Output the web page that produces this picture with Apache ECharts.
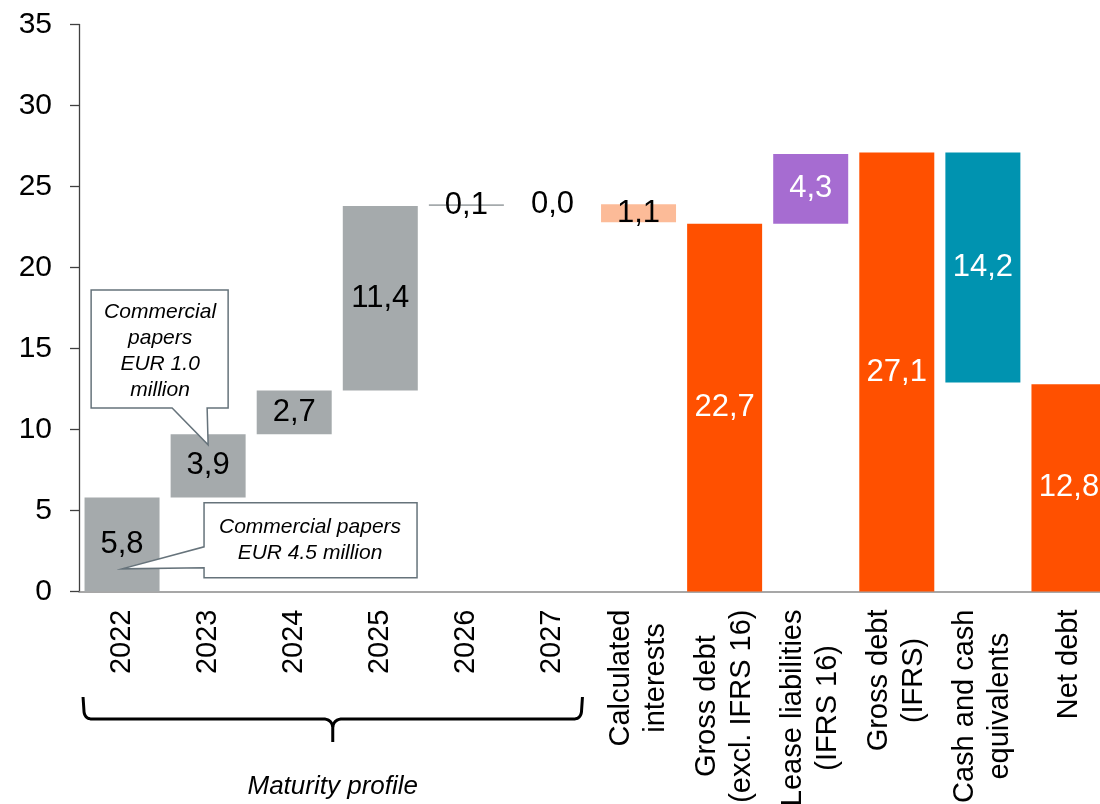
<!DOCTYPE html>
<html>
<head>
<meta charset="utf-8">
<title>Debt maturity profile and net debt</title>
<script src="https://cdn.jsdelivr.net/npm/echarts@6/dist/echarts.min.js"></script>
<style>
  html, body { margin: 0; padding: 0; background: #ffffff; }
  #chart { width: 1100px; height: 804px; }
</style>
</head>
<body>
<div id="chart"></div>
<script>
// Bridge categories, in drawing order
const categories = [
  '2022', '2023', '2024', '2025', '2026', '2027',
  'Calculated\ninterests',
  'Gross debt\n(excl. IFRS 16)',
  'Lease liabilities\n(IFRS 16)',
  'Gross debt\n(IFRS)',
  'Cash and cash\nequivalents',
  'Net debt'
];
// Amounts in EUR million
const amounts = [5.8, 3.9, 2.7, 11.4, 0.1, 0.0, 1.1, 22.7, 4.3, 27.1, 14.2, 12.8];
// How each step moves the running total
const steps = ['up', 'up', 'up', 'up', 'up', 'up', 'down', 'total', 'up', 'total', 'down', 'total'];
// Fill per step
const barColors = [
  '#a5aaac', '#a5aaac', '#a5aaac', '#a5aaac', '#a5aaac', '#a5aaac',
  '#fcbb98', '#ff5000', '#a66cd1', '#ff5000', '#0093b0', '#ff5000'
];
const labelColors = [
  '#000000', '#000000', '#000000', '#000000', '#000000', '#000000',
  '#000000', '#ffffff', '#ffffff', '#ffffff', '#ffffff', '#ffffff'
];
// Value axis
const yMin = 0, yMax = 35, yStep = 5;
// Callout notes: anchor category, anchor value, text lines
const noteA = { cat: '2023', value: 9.05, lines: ['Commercial', 'papers', 'EUR 1.0', 'million'] };
const noteB = { cat: '2022', value: 1.4, lines: ['Commercial papers', 'EUR 4.5 million'] };
const groupTitle = 'Maturity profile';

const FONT = '"Liberation Sans", Arial, Helvetica, sans-serif';

// Floating bases for the waterfall
const r1 = v => Math.round(v * 10) / 10;
const bases = [];
let running = 0;
amounts.forEach((v, i) => {
  if (steps[i] === 'up') { bases.push(r1(running)); running = r1(running + v); }
  else if (steps[i] === 'down') { running = r1(running - v); bases.push(running); }
  else { bases.push(0); running = v; }
});

const fmt = v => v.toFixed(1).replace('.', ',');

const chart = echarts.init(document.getElementById('chart'), null, { renderer: 'canvas' });

chart.setOption({
  animation: false,
  backgroundColor: '#ffffff',
  grid: {
    left: 79, top: 24.5, width: 1033, bottom: 212.5,
    containLabel: false, outerBoundsMode: 'none'
  },
  xAxis: {
    type: 'category',
    data: categories,
    axisLine: { show: true, lineStyle: { color: '#8a8a8a', width: 1.5 } },
    axisTick: { show: false },
    axisLabel: {
      interval: 0,
      rotate: 90,
      margin: 18,
      color: '#000',
      fontFamily: FONT,
      fontSize: 29,
      formatter: v => v.split('\n').map(s => '{c|' + s + '}').join('\n'),
      rich: { c: { align: 'center', fontSize: 29, lineHeight: 35, fontFamily: FONT, color: '#000' } }
    }
  },
  yAxis: {
    type: 'value',
    min: yMin, max: yMax, interval: yStep,
    axisLine: { show: true, lineStyle: { color: '#404040', width: 1.3 } },
    axisTick: { show: true, length: 9, lineStyle: { color: '#404040', width: 1.3 } },
    splitLine: { show: false },
    axisLabel: { margin: 27, color: '#000', fontFamily: FONT, fontSize: 30 }
  },
  series: [
    {
      name: 'base',
      type: 'bar',
      stack: 'bridge',
      barWidth: 75,
      silent: true,
      itemStyle: { color: 'transparent' },
      data: bases
    },
    {
      name: 'amount',
      type: 'bar',
      stack: 'bridge',
      barWidth: 75,
      data: amounts.map((v, i) => ({
        value: v,
        itemStyle: { color: barColors[i] },
        label: { color: labelColors[i] }
      })),
      label: {
        show: true,
        position: 'inside',
        fontFamily: FONT,
        fontSize: 31,
        formatter: p => fmt(p.value)
      }
    }
  ]
});

// Annotations: callout boxes and the maturity bracket
function px(cat, val) { return chart.convertToPixel({ gridIndex: 0 }, [cat, val]); }

const noteStroke = '#66737b';
const noteFont = 'italic 21px ' + FONT;

const tA = px(noteA.cat, noteA.value);
const tB = px(noteB.cat, noteB.value);
const rel = (t, pts) => pts.map(p => [t[0] + p[0], t[1] + p[1]]);

// Curly brace under the maturity years, built from quadratic corners
const c2022 = px('2022', 0)[0];
const c2027 = px('2027', 0)[0];
const braceL = c2022 - 39;
const braceR = c2027 + 30;
const braceM = (braceL + braceR) / 2;
const yTop = 697, yMid = 719, yTip = 742;

function quad(p0, p1, p2, n) {
  const out = [];
  for (let k = 0; k <= n; k++) {
    const t = k / n, u = 1 - t;
    out.push([u * u * p0[0] + 2 * u * t * p1[0] + t * t * p2[0],
              u * u * p0[1] + 2 * u * t * p1[1] + t * t * p2[1]]);
  }
  return out;
}
const braceLeft = [[braceL, yTop]]
  .concat(quad([braceL + 1, yMid - 7], [braceL + 2, yMid], [braceL + 9, yMid], 8))
  .concat(quad([braceM - 8, yMid], [braceM - 1, yMid + 1], [braceM, yMid + 8], 8))
  .concat([[braceM, yTip]]);
const braceRight = [[braceM, yMid + 8]]
  .concat(quad([braceM, yMid + 8], [braceM + 1, yMid + 1], [braceM + 8, yMid], 8))
  .concat(quad([braceR - 9, yMid], [braceR - 2, yMid], [braceR - 1, yMid - 7], 8))
  .concat([[braceR, yTop]]);

chart.setOption({
  graphic: [
    {
      type: 'polygon',
      shape: { points: rel(tA, [[-117, -155], [20, -155], [20, -37], [-1, -37], [0, 0], [-36, -37], [-117, -37]]) },
      style: { fill: '#ffffff', stroke: noteStroke, lineWidth: 1.5 },
      z: 100
    },
    {
      type: 'text',
      x: tA[0] - 48, y: tA[1] - 94,
      style: {
        text: noteA.lines.join('\n'), font: noteFont, lineHeight: 26,
        fill: '#000', align: 'center', verticalAlign: 'middle'
      },
      z: 101
    },
    {
      type: 'polygon',
      shape: { points: rel(tB, [[82, -66], [295, -66], [295, 9], [82, 9], [82, -1], [0, 0], [82, -22]]) },
      style: { fill: '#ffffff', stroke: noteStroke, lineWidth: 1.5 },
      z: 100
    },
    {
      type: 'text',
      x: tB[0] + 188, y: tB[1] - 29,
      style: {
        text: noteB.lines.join('\n'), font: noteFont, lineHeight: 26,
        fill: '#000', align: 'center', verticalAlign: 'middle'
      },
      z: 101
    },
    {
      type: 'polyline',
      shape: { points: braceLeft },
      style: { fill: null, stroke: '#000', lineWidth: 3, lineJoin: 'round' },
      z: 50
    },
    {
      type: 'polyline',
      shape: { points: braceRight },
      style: { fill: null, stroke: '#000', lineWidth: 3, lineJoin: 'round' },
      z: 50
    },
    {
      type: 'text',
      x: braceM, y: 787,
      style: {
        text: groupTitle, font: 'italic 26px ' + FONT,
        fill: '#000', align: 'center', verticalAlign: 'middle'
      },
      z: 50
    }
  ]
});
</script>
</body>
</html>
